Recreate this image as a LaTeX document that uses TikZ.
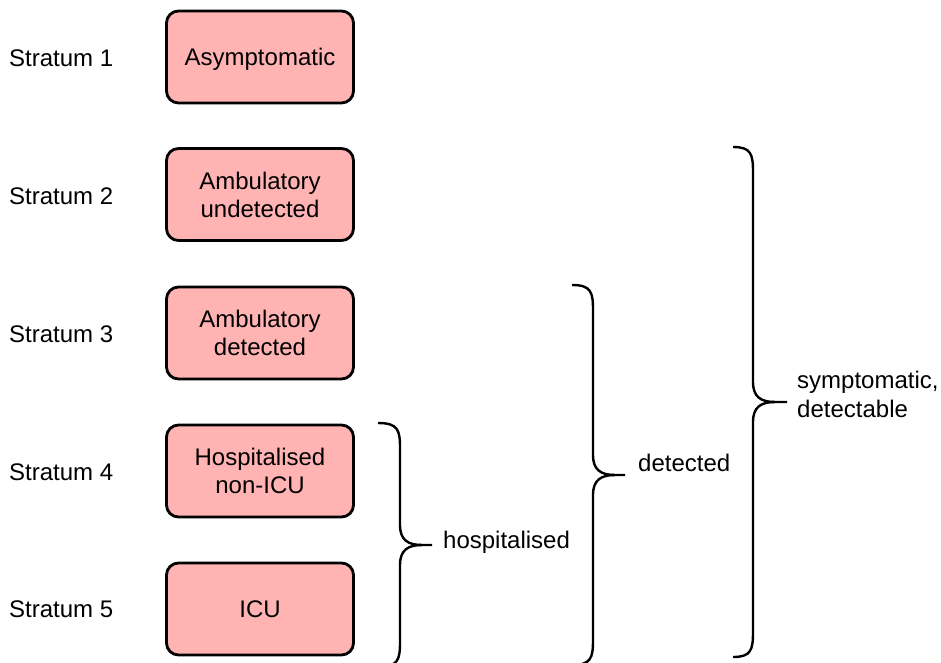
\documentclass[tikz,border=0pt]{standalone}
\usepackage{fontspec}
\setmainfont{Liberation Sans}
\definecolor{boxpink}{RGB}{255,179,179}
\begin{document}
\begin{tikzpicture}[x=1pt,y=-1pt,
  stratbox/.style={draw=black,line width=2.8pt,fill=boxpink,rounded corners=12pt,
    minimum width=187pt,minimum height=92pt,inner sep=0pt,align=center,
    text height=17pt,text depth=0pt,
    font=\fontsize{24}{28}\selectfont},
  twoline/.style={text height=45pt},
  stratlabel/.style={anchor=base west,inner sep=0pt,font=\fontsize{24}{28}\selectfont},
  bracelabel/.style={anchor=base west,inner sep=0pt,align=left,font=\fontsize{24}{29}\selectfont},
  bracepath/.style={draw=black,line width=2.4pt}]
\useasboundingbox (0,0) rectangle (941,662);
% boxes
\node[stratbox] (b1) at (260,57) {Asymptomatic};
\node[stratbox,twoline] (b2) at (260,194.5) {Ambulatory\\undetected};
\node[stratbox,twoline] (b3) at (260,333) {Ambulatory\\detected};
\node[stratbox,twoline] (b4) at (260,471) {Hospitalised\\non-ICU};
\node[stratbox] (b5) at (260,609) {ICU};
% labels
\node[stratlabel] (s1) at (9,66) {Stratum 1};
\node[stratlabel] (s2) at (9,204) {Stratum 2};
\node[stratlabel] (s3) at (9,342) {Stratum 3};
\node[stratlabel] (s4) at (9,480) {Stratum 4};
\node[stratlabel] (s5) at (9,617) {Stratum 5};
% brace 1: hospitalised
\coordinate (h1) at (378,423);
\coordinate (h2) at (378,667);
\coordinate (ht) at (432,545);
\draw[bracepath] (h1) .. controls (398,423) and (400,430) .. (400,448)
  -- (400,525) .. controls (400,540) and (408,545) .. (422,545) -- (ht);
\draw[bracepath] (h2) .. controls (398,667) and (400,660) .. (400,642)
  -- (400,565) .. controls (400,550) and (408,545) .. (422,545);
\node[bracelabel] (hl) at (443,548) {hospitalised};
% brace 2: detected
\coordinate (d1) at (572,285);
\coordinate (d2) at (572,665);
\coordinate (dt) at (625,475);
\draw[bracepath] (d1) .. controls (591,285) and (593,292) .. (593,310)
  -- (593,455) .. controls (593,470) and (601,475) .. (615,475) -- (dt);
\draw[bracepath] (d2) .. controls (591,665) and (593,658) .. (593,640)
  -- (593,495) .. controls (593,480) and (601,475) .. (615,475);
\node[bracelabel] (dl) at (638,471) {detected};
% brace 3: symptomatic, detectable
\coordinate (y1) at (733,147);
\coordinate (y2) at (733,657);
\coordinate (yt) at (787,402);
\draw[bracepath] (y1) .. controls (751,147) and (753,154) .. (753,172)
  -- (753,382) .. controls (753,397) and (761,402) .. (775,402) -- (yt);
\draw[bracepath] (y2) .. controls (751,657) and (753,650) .. (753,632)
  -- (753,422) .. controls (753,407) and (761,402) .. (775,402);
\node[bracelabel] (yl) at (797,417) {symptomatic,\\detectable};
\end{tikzpicture}
\end{document}
